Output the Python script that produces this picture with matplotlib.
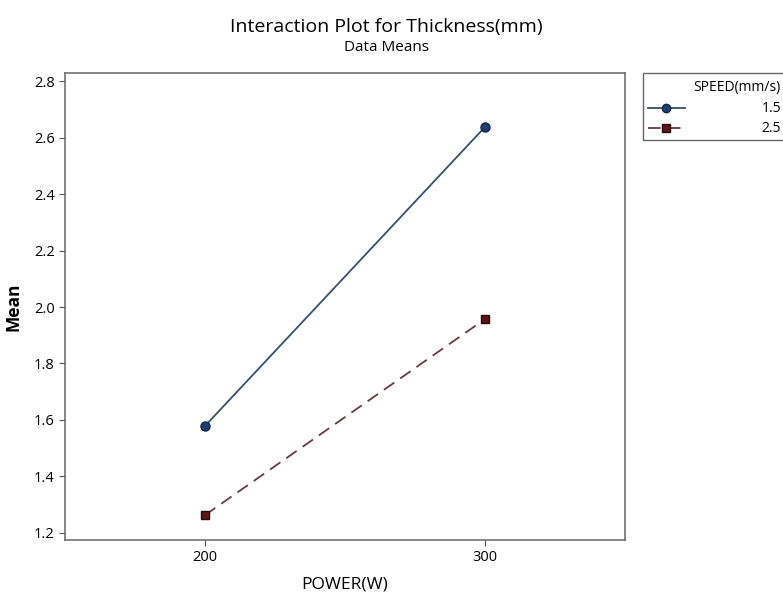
import matplotlib.pyplot as plt
from matplotlib.lines import Line2D
from matplotlib.patches import Rectangle

plt.rcParams['font.family'] = ['Open Sans', 'DejaVu Sans']

# data means
power = [200, 300]
speed_levels = ['1.5', '2.5']
mean_speed_15 = [1.578, 2.638]
mean_speed_25 = [1.262, 1.957]

blue = '#203f6b'
blue_line = '#34506e'
maroon = '#5c1616'
maroon_line = '#6b3a3a'

fig = plt.figure(figsize=(7.83, 6.03), dpi=100)
ax = fig.add_axes([0.083, 0.105, 0.715, 0.774])

ax.plot(power, mean_speed_15, color=blue_line, lw=1.3, marker='o', ms=6.5,
        mfc=blue, mec='#10264a')
ax.plot(power, mean_speed_25, color=maroon_line, lw=1.3, ls=(0, (7, 4)), marker='s', ms=6,
        mfc=maroon, mec='#2a0a0a')

ax.set_xlim(150, 350)
ax.set_ylim(1.175, 2.83)
ax.set_xticks(power)
ax.set_yticks([1.2, 1.4, 1.6, 1.8, 2.0, 2.2, 2.4, 2.6, 2.8])
ax.tick_params(labelsize=10.5, length=4, color='#555555')
for s in ax.spines.values():
    s.set_color('#666666')
    s.set_linewidth(1.1)

ax.set_xlabel('POWER(W)', fontsize=12.5, labelpad=8)
ax.set_ylabel('Mean', fontsize=12.5, fontweight='bold', labelpad=8)

fig.text(0.494, 0.955, 'Interaction Plot for Thickness(mm)', ha='center', va='center', fontsize=14)
fig.text(0.494, 0.922, 'Data Means', ha='center', va='center', fontsize=11)

# legend box, running off the right edge like the original
fig.patches.append(Rectangle((643 / 783, 1 - 140 / 603), 0.3, 67 / 603,
                             transform=fig.transFigure, fill=False,
                             edgecolor='#666666', lw=1.0))
fig.text(781 / 783, 1 - 87 / 603, 'SPEED(mm/s)', ha='right', va='center', fontsize=10)
legend_rows = [
    (speed_levels[0], 108, blue_line, '-', 'o', blue, '#10264a'),
    (speed_levels[1], 128, maroon_line, (0, (7, 4)), 's', maroon, '#2a0a0a'),
]
for lab, y, lc, ls, mk, mf, me in legend_rows:
    yy = 1 - y / 603
    fig.add_artist(Line2D([648 / 783, 685 / 783], [yy, yy], transform=fig.transFigure,
                          color=lc, ls=ls, lw=1.3))
    fig.add_artist(Line2D([666 / 783], [yy], transform=fig.transFigure, marker=mk,
                          ms=6, mfc=mf, mec=me, ls='none'))
    fig.text(781 / 783, yy, lab, ha='right', va='center', fontsize=10)

fig.savefig('out.png', dpi=100)
